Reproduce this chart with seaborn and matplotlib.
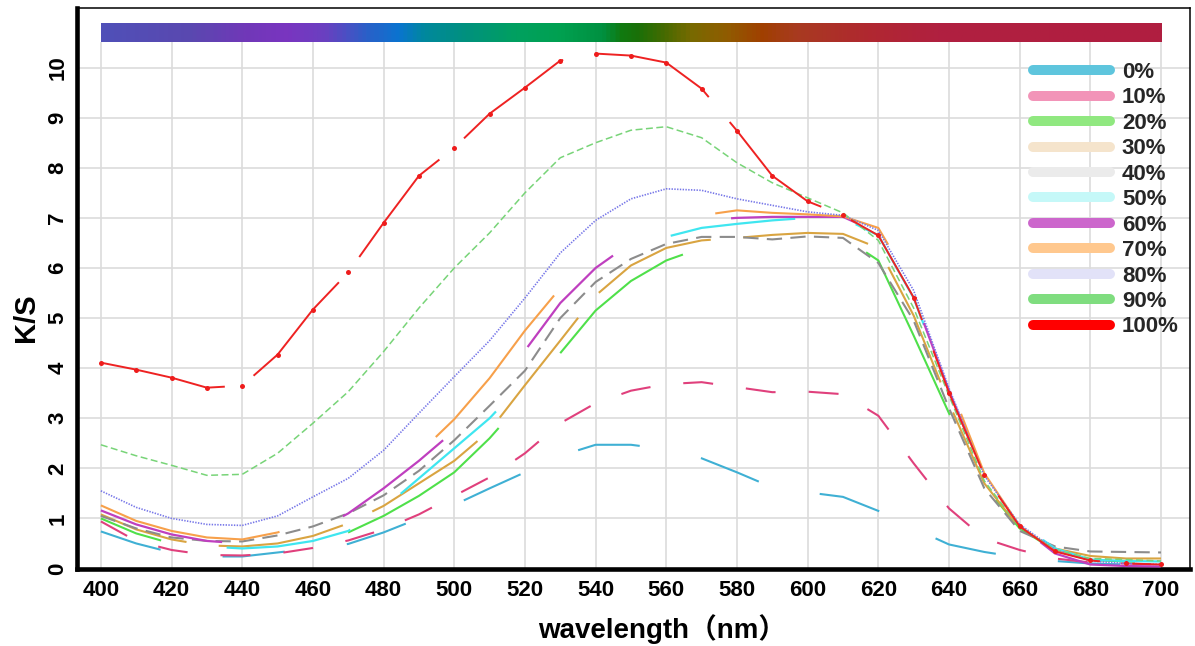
import numpy as np
import pandas as pd
import matplotlib
matplotlib.use("Agg")
import matplotlib.pyplot as plt
import seaborn as sns
from matplotlib.colors import LinearSegmentedColormap
from matplotlib.lines import Line2D

# ---- data -----------------------------------------------------------------
wavelength = list(range(400, 701, 10))

ks_0 = [0.74, 0.50, 0.32, 0.24, 0.24, 0.32, 0.40, 0.49, 0.72, 1.00, 1.27, 1.60, 1.92, 2.25, 2.47, 2.47,
        2.38, 2.20, 1.92, 1.62, 1.52, 1.43, 1.15, 0.80, 0.48, 0.33, 0.22, 0.15, 0.10, 0.08, 0.07]
ks_10 = [0.94, 0.55, 0.37, 0.27, 0.26, 0.30, 0.41, 0.56, 0.78, 1.08, 1.45, 1.82, 2.30, 2.90, 3.30, 3.55,
         3.68, 3.72, 3.62, 3.52, 3.53, 3.48, 3.05, 2.10, 1.20, 0.60, 0.37, 0.20, 0.12, 0.10, 0.08]
ks_20 = [1.00, 0.70, 0.50, 0.38, 0.36, 0.40, 0.50, 0.72, 1.05, 1.45, 1.92, 2.60, 3.40, 4.30, 5.15, 5.74,
         6.15, 6.40, 6.55, 6.62, 6.65, 6.62, 6.15, 4.65, 3.10, 1.65, 0.80, 0.36, 0.17, 0.14, 0.13]
ks_30 = [1.08, 0.78, 0.58, 0.46, 0.44, 0.50, 0.65, 0.90, 1.25, 1.70, 2.15, 2.75, 3.66, 4.55, 5.45, 6.05,
         6.40, 6.55, 6.60, 6.66, 6.70, 6.68, 6.40, 5.05, 3.30, 1.70, 0.80, 0.40, 0.25, 0.20, 0.20]
ks_40 = [1.05, 0.80, 0.62, 0.55, 0.54, 0.66, 0.84, 1.10, 1.46, 1.95, 2.56, 3.25, 3.95, 5.00, 5.72, 6.18,
         6.48, 6.62, 6.62, 6.57, 6.63, 6.60, 6.10, 4.95, 3.20, 1.60, 0.75, 0.44, 0.34, 0.33, 0.32]
ks_50 = [1.08, 0.78, 0.57, 0.44, 0.40, 0.44, 0.55, 0.75, 1.20, 1.80, 2.40, 3.00, 3.75, 4.75, 5.50, 6.10,
         6.62, 6.80, 6.88, 6.95, 7.00, 7.00, 6.65, 5.40, 3.55, 1.90, 0.90, 0.40, 0.18, 0.15, 0.14]
ks_60 = [1.16, 0.88, 0.68, 0.55, 0.50, 0.55, 0.72, 1.10, 1.60, 2.15, 2.75, 3.50, 4.35, 5.30, 6.00, 6.50,
         6.80, 6.95, 7.00, 7.02, 7.02, 7.02, 6.70, 5.45, 3.55, 1.85, 0.85, 0.30, 0.08, 0.05, 0.04]
ks_70 = [1.26, 0.95, 0.75, 0.62, 0.58, 0.72, 0.95, 1.30, 1.75, 2.30, 2.98, 3.80, 4.75, 5.60, 6.20, 6.60,
         6.85, 7.05, 7.15, 7.10, 7.07, 7.03, 6.80, 5.60, 3.70, 1.90, 0.85, 0.35, 0.20, 0.20, 0.20]
ks_80 = [1.55, 1.22, 1.00, 0.88, 0.86, 1.05, 1.43, 1.80, 2.36, 3.10, 3.83, 4.55, 5.40, 6.30, 6.95, 7.38,
         7.58, 7.55, 7.38, 7.25, 7.12, 7.05, 6.75, 5.55, 3.60, 1.85, 0.88, 0.38, 0.15, 0.10, 0.08]
ks_90 = [2.47, 2.25, 2.06, 1.86, 1.88, 2.30, 2.90, 3.53, 4.33, 5.20, 6.00, 6.70, 7.50, 8.20, 8.50, 8.75,
         8.82, 8.60, 8.10, 7.70, 7.40, 7.10, 6.55, 5.20, 3.45, 1.75, 0.82, 0.38, 0.20, 0.18, 0.15]
ks_100 = [4.11, 3.97, 3.81, 3.61, 3.65, 4.27, 5.17, 5.91, 6.90, 7.84, 8.40, 9.08, 9.60, 10.14, 10.28, 10.24,
          10.10, 9.58, 8.74, 7.84, 7.33, 7.05, 6.65, 5.41, 3.51, 1.86, 0.84, 0.34, 0.16, 0.10, 0.08]

series_labels = ["0%", "10%", "20%", "30%", "40%", "50%", "60%", "70%", "80%", "90%", "100%"]
series_values = [ks_0, ks_10, ks_20, ks_30, ks_40, ks_50, ks_60, ks_70, ks_80, ks_90, ks_100]

line_colors = ["#3fb0d4", "#e0407c", "#4fe04a", "#d9a441", "#8c8c8c", "#3fe6f0",
               "#bf3fbf", "#f7a04a", "#7676e8", "#78d478", "#ee2222"]
legend_colors = ["#5ec5dd", "#f294b8", "#90e880", "#f5e4cc", "#ebebeb", "#c5f8f8",
                 "#cc66cc", "#ffc88e", "#e2e2f8", "#7fdd7f", "#ff0000"]
# dash patterns in points (lines.scale_dashes is off)
line_styles = [(0, (45, 45)),
               (0, (21.6, 23.8)),
               (271.9, (133.2, 69.8, 115.2, 136.8)),
               (26.4, (91.4, 23.4)),
               (0, (11, 6)),
               (311.7, (90.7, 44.6, 90.7, 180)),
               (0, (90.7, 90.7)),
               (0, (133, 133)),
               (0, (1.0, 1.0)),
               (0, (5, 2.5)),
               (0, (91.4, 23.4))]
line_widths = [1.5, 1.5, 1.5, 1.5, 1.5, 1.6, 1.6, 1.5, 1.2, 1.1, 1.4]

# visible-spectrum strip along the top of the plot
spectrum_nm = [400, 425, 440, 452, 463, 475, 484, 491, 502, 517, 530, 542, 547, 552,
               560, 567, 577, 587, 597, 617, 637, 700]
spectrum_hex = ["#5050b8", "#5a48b0", "#7038b8", "#7a35c0", "#6a40c0", "#2a60c8", "#0a74d0",
                "#00889e", "#009080", "#00a060", "#00a050", "#009040", "#107a10", "#1a7008",
                "#4a6a00", "#786a00", "#905c00", "#a04000", "#a83a20", "#b02830", "#b02040",
                "#b01e40"]

# ---- styling --------------------------------------------------------------
sns.set_theme(style="white")
plt.rcParams["font.family"] = ["Liberation Sans", "Noto Sans CJK SC", "DejaVu Sans"]
plt.rcParams["font.weight"] = "bold"
plt.rcParams["axes.labelweight"] = "bold"
plt.rcParams["lines.scale_dashes"] = False

W, H = 1195, 646
fig = plt.figure(figsize=(W / 100, H / 100), dpi=100)
ax = fig.add_axes([76.5 / W, (H - 568.5) / H, (1190 - 76.5) / W, (568.5 - 8) / H])

# grid: horizontal lines across, vertical lines stop under the spectrum strip
for yv in range(1, 11):
    ax.axhline(yv, color="#dcdcdc", lw=1.2, zorder=0)
ax.vlines(np.arange(400, 701, 20), 0, 10.52, color="#dcdcdc", lw=1.2, zorder=0)

# spectrum strip
pos = [(v - 400) / 300 for v in spectrum_nm]
cmap = LinearSegmentedColormap.from_list("spectrum", list(zip(pos, spectrum_hex)))
ax.imshow(np.linspace(0, 1, 800)[None, :], extent=[400, 700, 10.52, 10.88],
          aspect="auto", cmap=cmap, origin="lower", zorder=1)

df = pd.DataFrame({"wavelength": wavelength})
for lab, vals, col, ls, lw in zip(series_labels, series_values, line_colors, line_styles, line_widths):
    df[lab] = vals
    kw = {}
    if lab == "100%":
        kw = dict(marker="o", markersize=3.6, markeredgewidth=0, markerfacecolor="#ee1c1c")
    sns.lineplot(data=df, x="wavelength", y=lab, ax=ax, color=col, lw=lw,
                 linestyle=ls, zorder=3, legend=False, **kw)

ax.set_xlim(393.1, 708.2)
ax.set_ylim(0, 11.19)
ax.set_xticks(np.arange(400, 701, 20))
ax.set_yticks(np.arange(0, 11, 1))

for side in ["left", "bottom"]:
    ax.spines[side].set_linewidth(3.3)
    ax.spines[side].set_color("black")
for side in ["top", "right"]:
    ax.spines[side].set_linewidth(1.1)
    ax.spines[side].set_color("black")

ax.tick_params(axis="both", direction="in", length=6, width=4.2, color="black",
               labelsize=16, labelcolor="black")
ax.tick_params(axis="x", pad=8.5)
ax.tick_params(axis="y", pad=6, labelrotation=90)
for t in ax.get_yticklabels():
    t.set_va("center")
for t in ax.get_xticklabels() + ax.get_yticklabels():
    t.set_fontweight("bold")

ax.set_xlabel("wavelength（nm）", fontsize=20, fontweight="bold", color="black")
ax.set_ylabel("K/S", fontsize=21, fontweight="bold", color="black")
ax.xaxis.set_label_coords(0.526, -0.081)
ax.yaxis.set_label_coords(-0.033, 0.447)

handles = [Line2D([0], [0], color=c, lw=7.2) for c in legend_colors]
leg = ax.legend(handles, series_labels, loc="upper left",
                bbox_to_anchor=(1033 / W, 1 - 62 / H), bbox_transform=fig.transFigure,
                frameon=False, borderpad=0, borderaxespad=0, handlelength=3.45,
                handletextpad=0.55, labelspacing=0.2, prop={"weight": "bold", "size": 16})

fig.savefig("out.png", dpi=100)
